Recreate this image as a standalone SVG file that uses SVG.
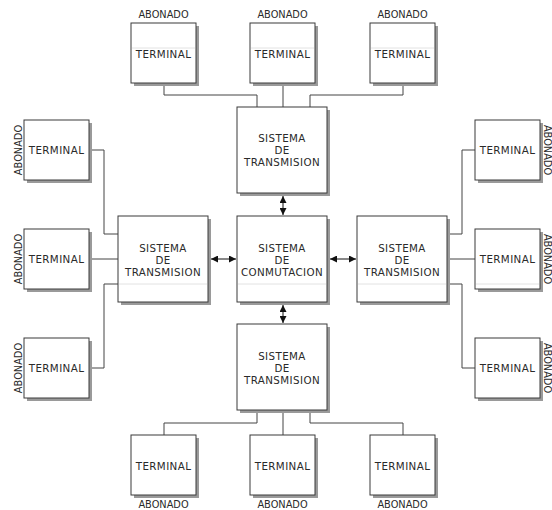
<svg xmlns="http://www.w3.org/2000/svg" width="552" height="510" viewBox="0 0 552 510">
  <style>
    .shadow { fill: #9a9a9a; }
    .box { fill: #ffffff; stroke: #3a3a3a; stroke-width: 1; }
    .sep { stroke: #e2e2e2; stroke-width: 1; }
    .lbl { font-family: "DejaVu Sans", sans-serif; font-size: 10.3px; letter-spacing: 0.4px; fill: #2a2a2a; text-anchor: middle; }
    .ab { font-family: "DejaVu Sans", sans-serif; font-size: 9.8px; fill: #2a2a2a; text-anchor: middle; }
    .wire { fill: none; stroke: #444444; stroke-width: 1; }
    .arrow { fill: none; stroke: #111111; stroke-width: 1; marker-start: url(#head); marker-end: url(#head); }
  </style>
  <defs>
    <marker id="head" viewBox="0 0 10 10" refX="10" refY="5" markerWidth="7" markerHeight="7" orient="auto-start-reverse" markerUnits="userSpaceOnUse">
      <path d="M0,0 L10,5 L0,10 z" fill="#111111"/>
    </marker>
  </defs>

  <rect width="552" height="510" fill="#ffffff"/>

  <!-- connectors -->
  <g id="connectors">
    <path class="wire" d="M164,83 V95 H257 V107"/>
    <path class="wire" d="M283,83 V107"/>
    <path class="wire" d="M403,83 V95 H310 V107"/>
    <path class="wire" d="M257,410 V423 H164 V435"/>
    <path class="wire" d="M283,410 V435"/>
    <path class="wire" d="M310,410 V423 H403 V435"/>
    <path class="wire" d="M89,150 H104 V234 H118"/>
    <path class="wire" d="M89,259 H118"/>
    <path class="wire" d="M118,284 H104 V368 H89"/>
    <path class="wire" d="M447,234 H462 V150 H475"/>
    <path class="wire" d="M447,259 H475"/>
    <path class="wire" d="M447,284 H462 V368 H475"/>
    <path class="arrow" d="M283,196 V215"/>
    <path class="arrow" d="M283,305 V323"/>
    <path class="arrow" d="M211,259 H236"/>
    <path class="arrow" d="M330,259 H356"/>
  </g>

  <!-- top terminals -->
  <g id="term-top-1">
    <rect class="shadow" x="134" y="26" width="65" height="60"/>
    <rect class="box" x="131" y="23" width="65" height="60"/>
    <line class="sep" x1="132" y1="48" x2="195" y2="48"/>
    <text class="lbl" x="163.5" y="57.5">TERMINAL</text>
    <text class="ab" x="163.5" y="18">ABONADO</text>
  </g>
  <g id="term-top-2">
    <rect class="shadow" x="253" y="26" width="65" height="60"/>
    <rect class="box" x="250" y="23" width="65" height="60"/>
    <line class="sep" x1="251" y1="48" x2="314" y2="48"/>
    <text class="lbl" x="282.5" y="57.5">TERMINAL</text>
    <text class="ab" x="282.5" y="18">ABONADO</text>
  </g>
  <g id="term-top-3">
    <rect class="shadow" x="373" y="26" width="65" height="60"/>
    <rect class="box" x="370" y="23" width="65" height="60"/>
    <line class="sep" x1="371" y1="48" x2="434" y2="48"/>
    <text class="lbl" x="402.5" y="57.5">TERMINAL</text>
    <text class="ab" x="402.5" y="18">ABONADO</text>
  </g>

  <!-- left terminals -->
  <g id="term-left-1">
    <rect class="shadow" x="27" y="123" width="65" height="60"/>
    <rect class="box" x="24" y="120" width="65" height="60"/>
    <text class="lbl" x="56.5" y="153.5">TERMINAL</text>
    <text class="ab" transform="translate(22,150) rotate(-90)">ABONADO</text>
  </g>
  <g id="term-left-2">
    <rect class="shadow" x="27" y="232" width="65" height="60"/>
    <rect class="box" x="24" y="229" width="65" height="60"/>
    <text class="lbl" x="56.5" y="262.5">TERMINAL</text>
    <text class="ab" transform="translate(22,259) rotate(-90)">ABONADO</text>
  </g>
  <g id="term-left-3">
    <rect class="shadow" x="27" y="341" width="65" height="60"/>
    <rect class="box" x="24" y="338" width="65" height="60"/>
    <text class="lbl" x="56.5" y="371.5">TERMINAL</text>
    <text class="ab" transform="translate(22,368) rotate(-90)">ABONADO</text>
  </g>

  <!-- right terminals -->
  <g id="term-right-1">
    <rect class="shadow" x="478" y="123" width="65" height="60"/>
    <rect class="box" x="475" y="120" width="65" height="60"/>
    <text class="lbl" x="507.5" y="153.5">TERMINAL</text>
    <text class="ab" transform="translate(543.5,150) rotate(90)">ABONADO</text>
  </g>
  <g id="term-right-2">
    <rect class="shadow" x="478" y="232" width="65" height="60"/>
    <rect class="box" x="475" y="229" width="65" height="60"/>
    <line class="sep" x1="476" y1="284" x2="539" y2="284"/>
    <text class="lbl" x="507.5" y="262.5">TERMINAL</text>
    <text class="ab" transform="translate(543.5,259) rotate(90)">ABONADO</text>
  </g>
  <g id="term-right-3">
    <rect class="shadow" x="478" y="341" width="65" height="60"/>
    <rect class="box" x="475" y="338" width="65" height="60"/>
    <text class="lbl" x="507.5" y="371.5">TERMINAL</text>
    <text class="ab" transform="translate(543.5,368) rotate(90)">ABONADO</text>
  </g>

  <!-- bottom terminals -->
  <g id="term-bottom-1">
    <rect class="shadow" x="134" y="438" width="65" height="60"/>
    <rect class="box" x="131" y="435" width="65" height="60"/>
    <text class="lbl" x="163.5" y="469.5">TERMINAL</text>
    <text class="ab" x="163.5" y="508">ABONADO</text>
  </g>
  <g id="term-bottom-2">
    <rect class="shadow" x="253" y="438" width="65" height="60"/>
    <rect class="box" x="250" y="435" width="65" height="60"/>
    <text class="lbl" x="282.5" y="469.5">TERMINAL</text>
    <text class="ab" x="282.5" y="508">ABONADO</text>
  </g>
  <g id="term-bottom-3">
    <rect class="shadow" x="373" y="438" width="65" height="60"/>
    <rect class="box" x="370" y="435" width="65" height="60"/>
    <text class="lbl" x="402.5" y="469.5">TERMINAL</text>
    <text class="ab" x="402.5" y="508">ABONADO</text>
  </g>

  <!-- transmission systems -->
  <g id="trans-top">
    <rect class="shadow" x="240" y="110" width="90" height="86"/>
    <rect class="box" x="237" y="107" width="90" height="86"/>
    <text class="lbl" x="282" y="142">SISTEMA</text>
    <text class="lbl" x="282" y="154">DE</text>
    <text class="lbl" x="282" y="166">TRANSMISION</text>
  </g>
  <g id="trans-left">
    <rect class="shadow" x="121" y="219" width="90" height="86"/>
    <rect class="box" x="118" y="216" width="90" height="86"/>
    <line class="sep" x1="119" y1="284" x2="207" y2="284"/>
    <text class="lbl" x="163" y="252">SISTEMA</text>
    <text class="lbl" x="163" y="264">DE</text>
    <text class="lbl" x="163" y="276">TRANSMISION</text>
  </g>
  <g id="conmutacion">
    <rect class="shadow" x="240" y="219" width="90" height="86"/>
    <rect class="box" x="237" y="216" width="90" height="86"/>
    <line class="sep" x1="238" y1="284" x2="326" y2="284"/>
    <text class="lbl" x="282" y="252">SISTEMA</text>
    <text class="lbl" x="282" y="264">DE</text>
    <text class="lbl" x="282" y="276">CONMUTACION</text>
  </g>
  <g id="trans-right">
    <rect class="shadow" x="360" y="219" width="90" height="86"/>
    <rect class="box" x="357" y="216" width="90" height="86"/>
    <line class="sep" x1="358" y1="284" x2="446" y2="284"/>
    <text class="lbl" x="402" y="252">SISTEMA</text>
    <text class="lbl" x="402" y="264">DE</text>
    <text class="lbl" x="402" y="276">TRANSMISION</text>
  </g>
  <g id="trans-bottom">
    <rect class="shadow" x="240" y="327" width="90" height="86"/>
    <rect class="box" x="237" y="324" width="90" height="86"/>
    <text class="lbl" x="282" y="360">SISTEMA</text>
    <text class="lbl" x="282" y="372">DE</text>
    <text class="lbl" x="282" y="384">TRANSMISION</text>
  </g>
</svg>
